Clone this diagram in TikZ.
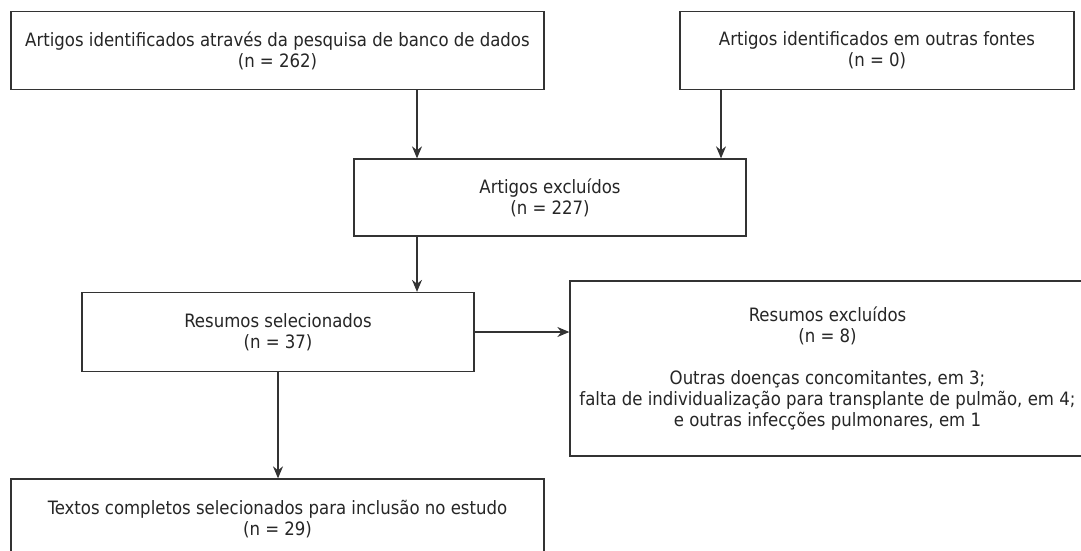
\documentclass[tikz,border=0pt]{standalone}
\usepackage{fontspec}
\setmainfont{DejaVu Sans Condensed}
\usetikzlibrary{arrows.meta}
\begin{document}
\begin{tikzpicture}[x=1pt,y=-1pt,
  box/.style={draw=black!80, line width=1.3pt, rectangle, align=center, inner sep=0pt,
    font=\fontsize{18.4}{21}\selectfont, text=black!85},
  arr/.style={draw=black!80, line width=1.3pt, -{Stealth[length=12pt,width=10pt]}}]
\clip (0,0) rectangle (1081,551);
\useasboundingbox (0,0) rectangle (1081,551);
\fill[white] (0,0) rectangle (1081,551);
\node[box, minimum width=533pt, minimum height=78pt] (b1) at (277.5,50.5)
  {Artigos identificados através da pesquisa de banco de dados\\(n = 262)};
\node[box, minimum width=394pt, minimum height=78pt] (b2) at (877,50.5)
  {Artigos identificados em outras fontes\\(n = 0)};
\node[box, minimum width=392pt, minimum height=77pt] (b3) at (550,197.5)
  {Artigos excluídos\\(n = 227)};
\node[box, minimum width=392pt, minimum height=79pt] (b4) at (278,332)
  {Resumos selecionados\\(n = 37)};
\node[box, minimum width=515pt, minimum height=175pt] (b5) at (827.5,368.5)
  {Resumos excluídos\\(n = 8)\\[21pt]Outras doenças concomitantes, em 3;\\falta de individualização para transplante de pulmão, em 4;\\e outras infecções pulmonares, em 1};
\node[box, minimum width=533pt, minimum height=81pt] (b6) at (277.5,519.5)
  {Textos completos selecionados para inclusão no estudo\\(n = 29)};
\coordinate (xa) at (417,0);
\coordinate (xb) at (721,0);
\draw[arr] (xa |- b1.south) -- (xa |- b3.north);
\draw[arr] (xb |- b2.south) -- (xb |- b3.north);
\draw[arr] (xa |- b3.south) -- (xa |- b4.north);
\draw[arr] (b4.east) -- (b5.west |- b4.east);
\draw[arr] (b4.south) -- (b6.north -| b4.south);
\end{tikzpicture}
\end{document}
